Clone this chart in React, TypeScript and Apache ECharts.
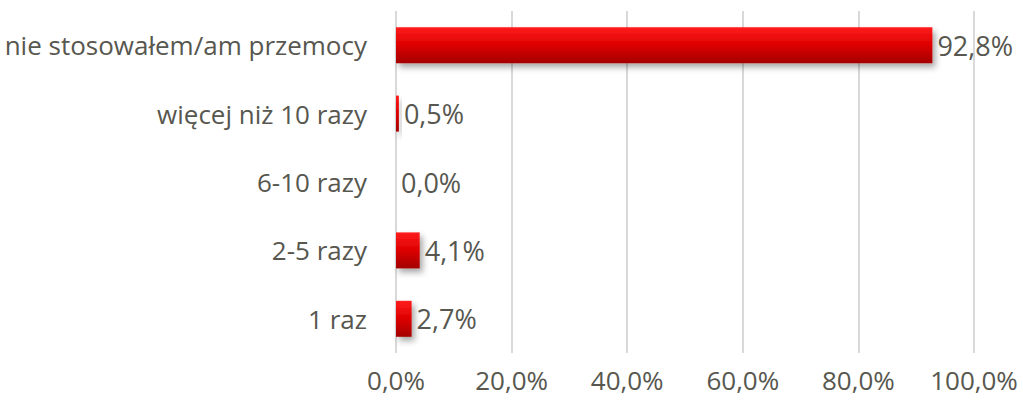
import React, { useEffect, useRef } from "react";
import * as echarts from "echarts";

const categories = ["1 raz", "2-5 razy", "6-10 razy", "więcej niż 10 razy", "nie stosowałem/am przemocy"];
const values = [2.7, 4.1, 0.0, 0.5, 92.8];
const axisTicks = [0, 20, 40, 60, 80, 100];

export default function App() {
  const ref = useRef<HTMLDivElement>(null);
  useEffect(() => {
    const chart = echarts.init(ref.current!, undefined, { renderer: "svg" });
    const font = "'Open Sans', sans-serif";
    const textColor = "#57574f";
    const fmt = (v: number) => v.toFixed(1).replace(".", ",") + "%";
    chart.setOption({
      animation: false,
      grid: { left: 396, right: 49, top: 11, bottom: 47, containLabel: false },
      xAxis: {
        type: "value",
        min: axisTicks[0],
        max: axisTicks[axisTicks.length - 1],
        interval: 20,
        axisLine: { show: false },
        axisTick: { show: false },
        splitLine: { show: true, lineStyle: { color: "#d9d9d9", width: 2 } },
        axisLabel: {
          color: textColor,
          fontSize: 26,
          fontFamily: font,
          margin: 14,
          formatter: fmt,
        },
      },
      yAxis: {
        type: "category",
        data: categories,
        axisLine: { show: false },
        axisTick: { show: false },
        axisLabel: { color: textColor, fontSize: 26, fontFamily: font, margin: 29 },
      },
      series: [
        {
          type: "bar",
          data: values,
          barWidth: 36,
          itemStyle: {
            color: new echarts.graphic.LinearGradient(0, 0, 0, 1, [
              { offset: 0, color: "#ff1c1c" },
              { offset: 0.5, color: "#dd0000" },
              { offset: 1, color: "#a30000" },
            ]),
            shadowColor: "rgba(0,0,0,0.35)",
            shadowBlur: 6,
            shadowOffsetX: 3,
            shadowOffsetY: 4,
          },
          label: {
            show: true,
            position: "right",
            distance: 5,
            color: textColor,
            fontSize: 27,
            fontFamily: font,
            formatter: (p: any) => fmt(p.value),
          },
        },
      ],
    });
    return () => chart.dispose();
  }, []);
  return <div ref={ref} style={{ width: 1023, height: 400, position: "absolute", left: 0, top: 0 }} />;
}
